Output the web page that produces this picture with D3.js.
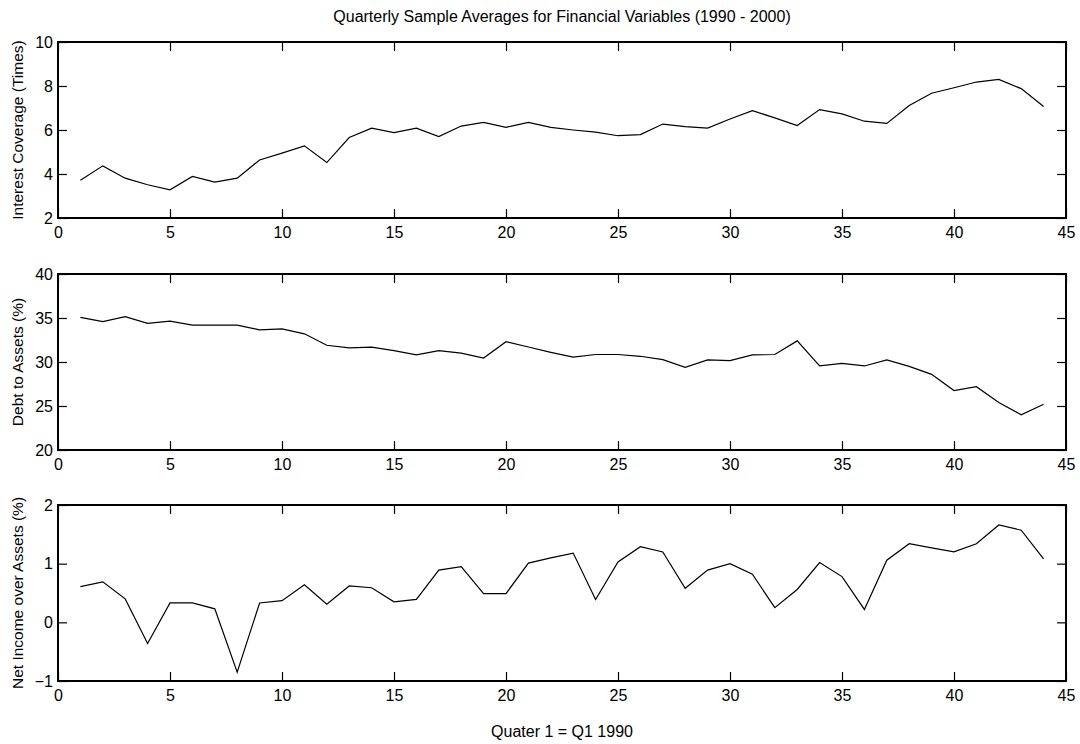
<!DOCTYPE html>
<html lang="en">
<head>
  <meta charset="utf-8">
  <script src="https://d3js.org/d3.v7.min.js"></script>
  <style>
    body { margin: 0; background: #fff; }
    svg text { font-family: "Liberation Sans", Arial, sans-serif; fill: #000; }
  </style>
</head>
<body>
<div id="chart"></div>
<script>

// quarter index (1 = Q1 1990)
var quarters = [1,2,3,4,5,6,7,8,9,10,11,12,13,14,15,16,17,18,19,20,21,22,
                23,24,25,26,27,28,29,30,31,32,33,34,35,36,37,38,39,40,41,42,43,44];

var interestCoverage = [3.72,4.37,3.81,3.51,3.28,3.89,3.63,3.81,4.64,4.95,5.28,4.52,5.66,6.08,5.88,6.08,5.70,6.18,6.35,6.12,6.35,6.12,
                        6.00,5.90,5.74,5.79,6.27,6.15,6.09,6.50,6.88,6.55,6.20,6.93,6.73,6.40,6.30,7.11,7.67,7.92,8.18,8.30,7.88,7.07];

var debtToAssets = [35.08,34.6,35.15,34.4,34.65,34.2,34.2,34.2,33.65,33.77,33.2,31.9,31.6,31.7,31.3,30.8,31.3,31.0,30.45,32.3,31.7,31.1,
                    30.55,30.85,30.85,30.65,30.27,29.4,30.23,30.15,30.8,30.85,32.4,29.55,29.85,29.55,30.23,29.5,28.6,26.75,27.2,25.4,24.0,25.2];

var netIncome = [0.61,0.69,0.40,-0.36,0.33,0.33,0.23,-0.85,0.33,0.37,0.64,0.31,0.62,0.59,0.35,0.39,0.89,0.95,0.49,0.49,1.01,1.10,
                 1.18,0.39,1.03,1.29,1.20,0.58,0.89,1.00,0.82,0.25,0.56,1.02,0.78,0.22,1.06,1.34,1.27,1.20,1.34,1.66,1.57,1.08];

var xTicks = [0,5,10,15,20,25,30,35,40,45];
var yTicks1 = [2,4,6,8,10];
var yTicks2 = [20,25,30,35,40];
var yTicks3 = [-1,0,1,2];

var panels = [
  {label: "Interest Coverage (Times)", values: interestCoverage, domain: [2,10], ticks: yTicks1, top: 42},
  {label: "Debt to Assets (%)", values: debtToAssets, domain: [20,40], ticks: yTicks2, top: 274},
  {label: "Net Income over Assets (%)", values: netIncome, domain: [-1,2], ticks: yTicks3, top: 505}
];

var W = 1080, H = 744;
var left = 58, right = 1066, ph = 176;

var svg = d3.select("#chart").append("svg")
  .attr("width", W)
  .attr("height", H);

var x = d3.scaleLinear().domain([0,45]).range([left, right]);

svg.append("text")
  .attr("x", (left + right) / 2)
  .attr("y", 22)
  .attr("text-anchor", "middle")
  .style("font-size", "16px")
  .text("Quarterly Sample Averages for Financial Variables (1990 - 2000)");

panels.forEach(function(p) {
  var y = d3.scaleLinear().domain(p.domain).range([p.top + ph, p.top]);
  var g = svg.append("g");

  // bottom axis with labels, ticks pointing inward
  g.append("g")
    .attr("transform", "translate(0," + (p.top + ph) + ")")
    .call(d3.axisBottom(x).tickValues(xTicks).tickSize(-9).tickPadding(9).tickFormat(d3.format("d")))
    .call(function(a) {
      a.select(".domain").remove();
      a.selectAll("text").style("font-size", "16px");
    });

  // top axis, ticks only
  g.append("g")
    .attr("transform", "translate(0," + p.top + ")")
    .call(d3.axisTop(x).tickValues(xTicks).tickSize(-9).tickFormat(""))
    .select(".domain").remove();

  // left axis
  g.append("g")
    .attr("transform", "translate(" + left + ",0)")
    .call(d3.axisLeft(y).tickValues(p.ticks).tickSize(-9).tickPadding(5).tickFormat(d3.format("d")))
    .call(function(a) {
      a.select(".domain").remove();
      a.selectAll("text").style("font-size", "16px");
    });

  // right axis, ticks only
  g.append("g")
    .attr("transform", "translate(" + right + ",0)")
    .call(d3.axisRight(y).tickValues(p.ticks).tickSize(-9).tickFormat(""))
    .select(".domain").remove();

  g.selectAll(".tick line").attr("stroke", "#000").attr("stroke-width", 1.2);

  // box
  g.append("rect")
    .attr("x", left)
    .attr("y", p.top)
    .attr("width", right - left)
    .attr("height", ph)
    .attr("fill", "none")
    .attr("stroke", "#000")
    .attr("stroke-width", 2);

  // the series
  var line = d3.line()
    .x(function(d, i) { return x(quarters[i]); })
    .y(function(d) { return y(d); });

  g.append("path")
    .datum(p.values)
    .attr("d", line)
    .attr("fill", "none")
    .attr("stroke", "#000")
    .attr("stroke-width", 1.2);

  // y label
  g.append("text")
    .attr("transform", "translate(23," + (p.top + ph / 2) + ") rotate(-90)")
    .attr("text-anchor", "middle")
    .style("font-size", "15.5px")
    .text(p.label);
});

svg.append("text")
  .attr("x", (left + right) / 2)
  .attr("y", 737)
  .attr("text-anchor", "middle")
  .style("font-size", "16px")
  .text("Quater 1 = Q1 1990");

</script>
</body>
</html>
